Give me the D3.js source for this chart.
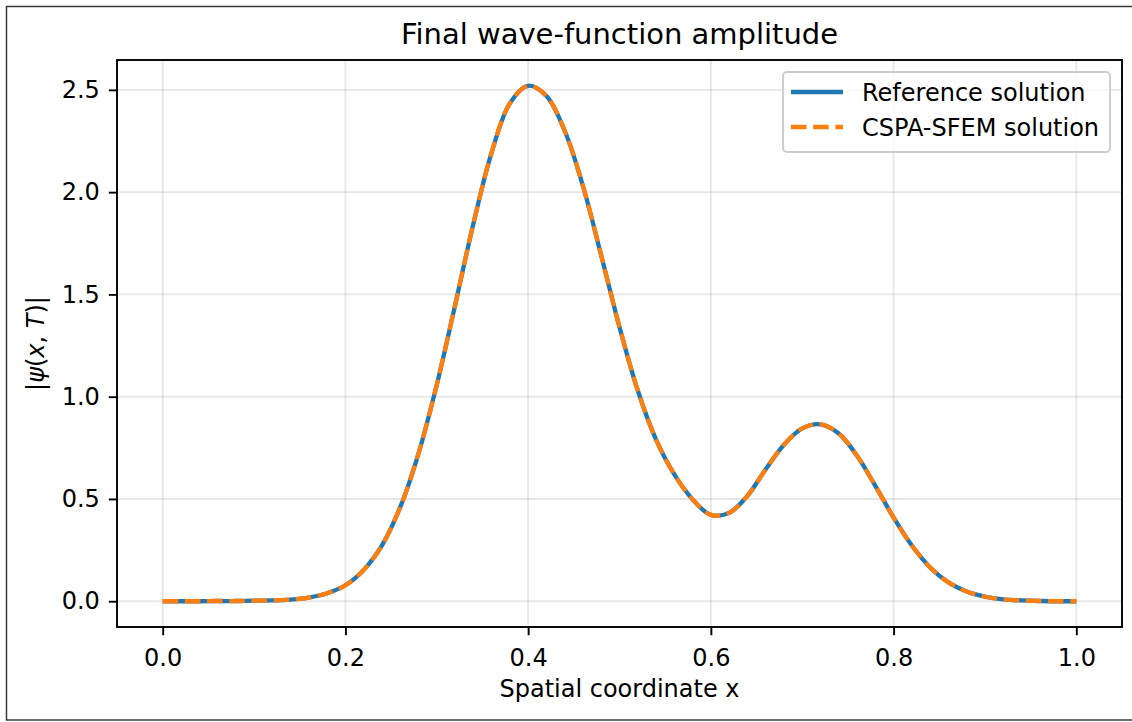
<!DOCTYPE html>
<html>
<head>
<meta charset="utf-8">
<script src="https://cdn.jsdelivr.net/npm/d3@7"></script>
<style>
  html, body { margin: 0; padding: 0; background: #fff; }
  svg { display: block; }
  text { font-family: "DejaVu Sans", sans-serif; fill: #000; }
</style>
</head>
<body>
<svg id="chart" width="1132" height="722"></svg>
<script>
// ---- data ----
const xValues = [0.00,0.02,0.04,0.06,0.08,0.10,0.12,0.14,0.16,0.18,
                 0.20,0.22,0.24,0.26,0.28,0.30,0.32,0.34,0.36,0.38,
                 0.40,0.42,0.44,0.46,0.48,0.50,0.52,0.54,0.56,0.58,
                 0.60,0.62,0.64,0.66,0.68,0.70,0.72,0.74,0.76,0.78,
                 0.80,0.82,0.84,0.86,0.88,0.90,0.92,0.94,0.96,0.98,1.00];
const referenceValues = [0.000,0.000,0.000,0.001,0.001,0.003,0.004,0.008,0.018,0.039,
                 0.078,0.153,0.273,0.460,0.722,1.058,1.446,1.844,2.193,2.434,
                 2.520,2.470,2.300,2.030,1.690,1.340,1.030,0.790,0.620,0.498,
                 0.422,0.432,0.515,0.645,0.765,0.845,0.865,0.820,0.711,0.564,
                 0.409,0.272,0.165,0.092,0.047,0.022,0.009,0.004,0.001,0.000,0.000];
const cspaValues = [0.000,0.000,0.000,0.001,0.001,0.003,0.004,0.008,0.018,0.039,
                 0.078,0.153,0.273,0.460,0.722,1.058,1.446,1.844,2.193,2.434,
                 2.520,2.470,2.300,2.030,1.690,1.340,1.030,0.790,0.620,0.498,
                 0.422,0.432,0.515,0.645,0.765,0.845,0.865,0.820,0.711,0.564,
                 0.409,0.272,0.165,0.092,0.047,0.022,0.009,0.004,0.001,0.000,0.000];
const xTicks = [0.0, 0.2, 0.4, 0.6, 0.8, 1.0];
const yTicks = [0.0, 0.5, 1.0, 1.5, 2.0, 2.5];
const seriesNames = ["Reference solution", "CSPA-SFEM solution"];
const titleText = "Final wave-function amplitude";
const xLabelText = "Spatial coordinate x";

// ---- layout ----
const svg = d3.select("#chart");
const plot = {left: 117, right: 1122, top: 60, bottom: 627};
const FS = 24;

// outer frame
svg.append("rect").attr("x", 6.5).attr("y", 6.5).attr("width", 1140).attr("height", 713.5)
  .attr("fill", "#fff").attr("stroke", "#3a3a3a").attr("stroke-width", 1.5);

const x = d3.scaleLinear().domain([-0.05, 1.05]).range([plot.left, plot.right]);
const yMax = 2.52;
const y = d3.scaleLinear().domain([-0.05 * yMax, 1.05 * yMax]).range([plot.bottom, plot.top]);

// grid
const grid = svg.append("g");
grid.selectAll("line.gx").data(xTicks).join("line")
  .attr("x1", d => x(d)).attr("x2", d => x(d))
  .attr("y1", plot.top).attr("y2", plot.bottom)
  .attr("stroke", "#b0b0b0").attr("stroke-opacity", 0.3).attr("stroke-width", 1.9);
grid.selectAll("line.gy").data(yTicks).join("line")
  .attr("y1", d => y(d)).attr("y2", d => y(d))
  .attr("x1", plot.left).attr("x2", plot.right)
  .attr("stroke", "#b0b0b0").attr("stroke-opacity", 0.3).attr("stroke-width", 1.9);

// lines
const pts = (vals) => xValues.map((d, i) => [d, vals[i]]);
const line = d3.line().x(d => x(d[0])).y(d => y(d[1])).curve(d3.curveCatmullRom.alpha(0.5));
svg.append("path").attr("d", line(pts(referenceValues)))
  .attr("fill", "none").attr("stroke", "#1f77b4").attr("stroke-width", 4.3);
svg.append("path").attr("d", line(pts(cspaValues)))
  .attr("fill", "none").attr("stroke", "#ff7f0e").attr("stroke-width", 4.3)
  .attr("stroke-dasharray", "15.5,6.7");

// axes
const xAxis = d3.axisBottom(x).tickValues(xTicks).tickFormat(d3.format(".1f")).tickSize(8.2).tickPadding(8);
const gx = svg.append("g").attr("transform", `translate(0,${plot.bottom})`).call(xAxis);
const yAxis = d3.axisLeft(y).tickValues(yTicks).tickFormat(d3.format(".1f")).tickSize(8.2).tickPadding(9);
const gy = svg.append("g").attr("transform", `translate(${plot.left},0)`).call(yAxis);
[gx, gy].forEach(g => {
  g.select(".domain").remove();
  g.selectAll(".tick line").attr("stroke", "#000").attr("stroke-width", 1.9);
  g.selectAll(".tick text").attr("font-family", "DejaVu Sans").attr("font-size", FS).attr("fill", "#000");
});
gx.selectAll(".tick text").attr("dy", "0.95em");

// spines
svg.append("rect").attr("x", plot.left).attr("y", plot.top)
  .attr("width", plot.right - plot.left).attr("height", plot.bottom - plot.top)
  .attr("fill", "none").attr("stroke", "#000").attr("stroke-width", 1.9);

// title & labels
svg.append("text").attr("x", (plot.left + plot.right) / 2).attr("y", 44)
  .attr("text-anchor", "middle").attr("font-size", 29).text(titleText);
svg.append("text").attr("x", (plot.left + plot.right) / 2).attr("y", 697)
  .attr("text-anchor", "middle").attr("font-size", FS).text(xLabelText);
const yl = svg.append("text").attr("transform", `translate(44,${(plot.top + plot.bottom) / 2}) rotate(-90)`)
  .attr("text-anchor", "middle").attr("font-size", FS);
yl.append("tspan").text("|");
yl.append("tspan").attr("font-style", "italic").text("ψ");
yl.append("tspan").text("(");
yl.append("tspan").attr("font-style", "italic").text("x");
yl.append("tspan").text(", ");
yl.append("tspan").attr("font-style", "italic").text("T");
yl.append("tspan").text(")|");

// legend
const lg = svg.append("g");
lg.append("rect").attr("x", 783).attr("y", 72).attr("width", 327).attr("height", 80)
  .attr("rx", 4).attr("fill", "#fff").attr("fill-opacity", 0.8)
  .attr("stroke", "#cccccc").attr("stroke-width", 1.9);
const legendColors = ["#1f77b4", "#ff7f0e"];
const legendDash = [null, "15.5,6.7"];
seriesNames.forEach((name, i) => {
  const yy = 92 + i * 35;
  lg.append("line").attr("x1", 791).attr("x2", 843).attr("y1", yy).attr("y2", yy)
    .attr("stroke", legendColors[i]).attr("stroke-width", 4.3)
    .attr("stroke-dasharray", legendDash[i]);
  lg.append("text").attr("x", 862).attr("y", yy + 8.5).attr("font-size", FS).text(name);
});
</script>
</body>
</html>
